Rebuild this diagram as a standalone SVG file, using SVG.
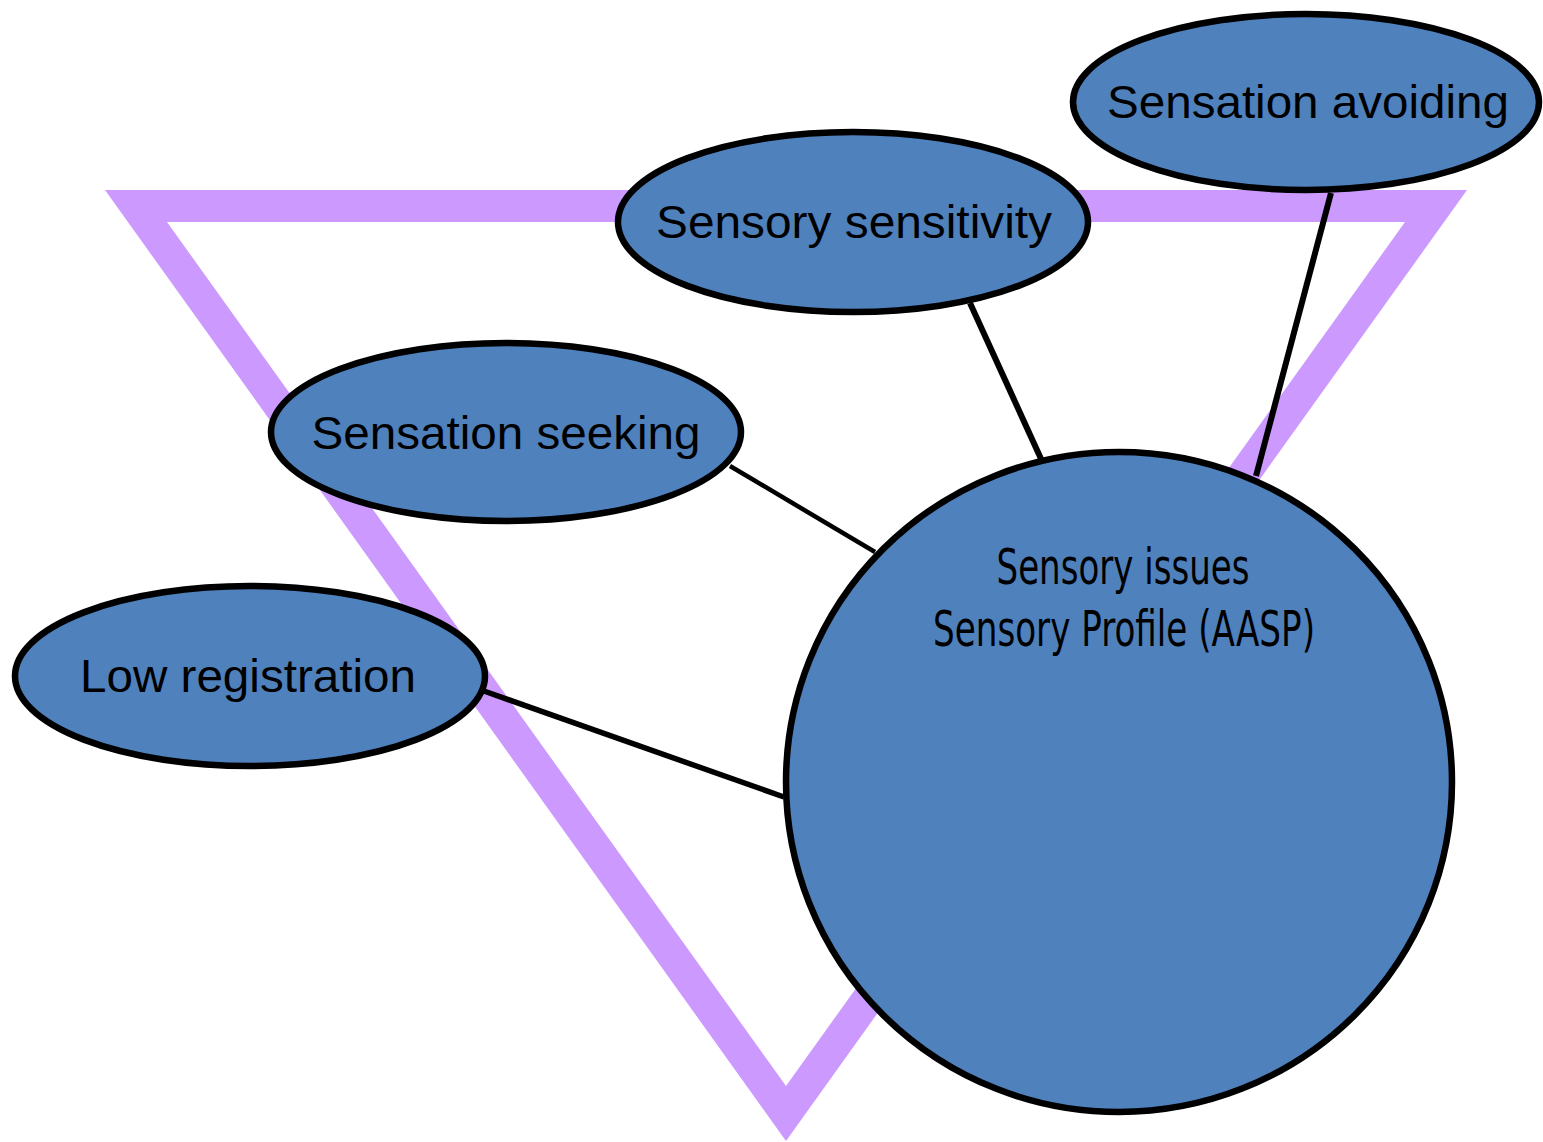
<svg xmlns="http://www.w3.org/2000/svg" width="1543" height="1142" viewBox="0 0 1543 1142">
<style>
.node{fill:#4F81BD;stroke:#000;stroke-width:6.5}
.lbl{font-family:"Liberation Sans",Arial,sans-serif;font-size:46px;fill:#000;text-anchor:middle}
.clbl{font-family:"Liberation Sans Narrow","DejaVu Sans Condensed","Liberation Sans",sans-serif;font-size:50px;fill:#000;text-anchor:middle}
.edge{stroke:#000;fill:none}
</style>
<rect width="1543" height="1142" fill="#fff"/>
<path id="triangle" d="M105,190 L1467,190 L786,1141 Z M167,222 L786,1086 L1405,222 Z" fill="#CC99FF" fill-rule="evenodd"/>
<g id="connectors">
<line class="edge" x1="1331" y1="193" x2="1256" y2="476" stroke-width="6"/>
<line class="edge" x1="970" y1="303" x2="1042" y2="461" stroke-width="6"/>
<line class="edge" x1="730" y1="466" x2="875" y2="552" stroke-width="4.5"/>
<line class="edge" x1="481" y1="690" x2="784" y2="797" stroke-width="5.5"/>
</g>
<g id="node-avoiding">
<ellipse class="node" cx="1306" cy="102" rx="233" ry="88"/>
<text class="lbl" x="1308" y="118" textLength="402" lengthAdjust="spacingAndGlyphs">Sensation avoiding</text>
</g>
<g id="node-sensitivity">
<ellipse class="node" cx="853" cy="222" rx="235" ry="90"/>
<text class="lbl" x="854" y="238" textLength="396" lengthAdjust="spacingAndGlyphs">Sensory sensitivity</text>
</g>
<g id="node-seeking">
<ellipse class="node" cx="506" cy="432" rx="235" ry="89"/>
<text class="lbl" x="506" y="449" textLength="389" lengthAdjust="spacingAndGlyphs">Sensation seeking</text>
</g>
<g id="node-low">
<ellipse class="node" cx="250" cy="676" rx="235" ry="90"/>
<text class="lbl" x="248" y="692" textLength="336" lengthAdjust="spacingAndGlyphs">Low registration</text>
</g>
<g id="node-issues">
<ellipse class="node" cx="1119" cy="782" rx="333" ry="330"/>
<text class="clbl" x="1123" y="584" textLength="253" lengthAdjust="spacingAndGlyphs">Sensory issues</text>
<text class="clbl" x="1124" y="646" textLength="382" lengthAdjust="spacingAndGlyphs">Sensory Profile (AASP)</text>
</g>
</svg>
